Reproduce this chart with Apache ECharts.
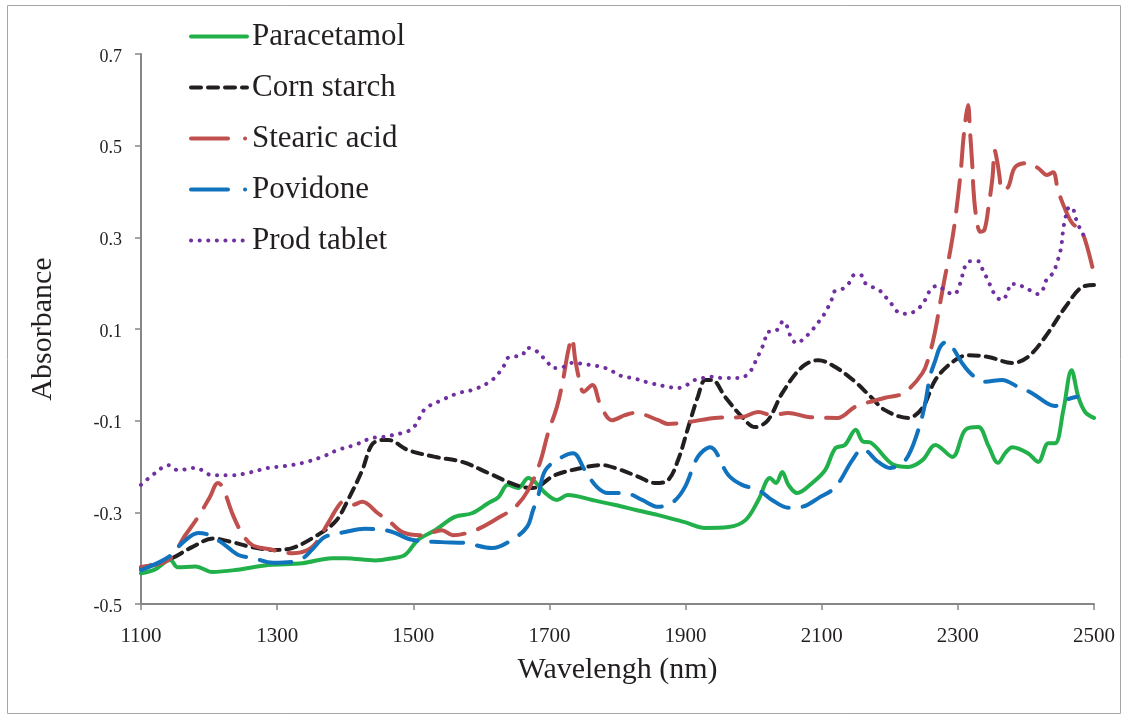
<!DOCTYPE html>
<html>
<head>
<meta charset="utf-8">
<title>NIR absorbance spectra</title>
<script src="https://cdn.jsdelivr.net/npm/echarts@6/dist/echarts.min.js"></script>
<style>
  html, body { margin: 0; padding: 0; background: #ffffff; }
  #chart { width: 1129px; height: 722px; }
</style>
</head>
<body>
<div id="chart"></div>
<script>
// Axis ranges and tick labels
const xTicks = [1100, 1300, 1500, 1700, 1900, 2100, 2300, 2500];
const yTicks = [-0.5, -0.3, -0.1, 0.1, 0.3, 0.5, 0.7];

const seriesNames = ['Paracetamol', 'Corn starch', 'Stearic acid', 'Povidone', 'Prod tablet'];

// Spectra: [wavelength (nm), absorbance]
const paracetamol = [
  [1100,-0.433],[1120,-0.425],[1143,-0.404],[1154,-0.42],[1180,-0.418],[1205,-0.43],[1238,-0.426],
  [1287,-0.415],[1337,-0.411],[1381,-0.40],[1400,-0.40],[1444,-0.405],[1470,-0.40],[1488,-0.393],
  [1507,-0.36],[1532,-0.339],[1561,-0.31],[1586,-0.302],[1610,-0.28],[1625,-0.267],[1639,-0.24],
  [1654,-0.247],[1669,-0.225],[1679,-0.234],[1694,-0.258],[1711,-0.273],[1727,-0.262],[1763,-0.273],
  [1797,-0.284],[1830,-0.296],[1860,-0.306],[1900,-0.322],[1929,-0.334],[1963,-0.332],[1988,-0.317],
  [2007,-0.273],[2024,-0.225],[2033,-0.236],[2042,-0.212],[2051,-0.24],[2064,-0.258],[2086,-0.236],
  [2105,-0.208],[2120,-0.16],[2134,-0.153],[2150,-0.12],[2160,-0.145],[2172,-0.148],[2204,-0.195],
  [2227,-0.201],[2248,-0.186],[2267,-0.153],[2292,-0.179],[2311,-0.12],[2330,-0.114],[2345,-0.155],
  [2359,-0.192],[2370,-0.17],[2380,-0.158],[2403,-0.171],[2418,-0.19],[2433,-0.149],[2443,-0.149],
  [2455,-0.077],[2467,0.01],[2477,-0.048],[2487,-0.081],[2500,-0.094]
];

const cornStarch = [
  [1100,-0.421],[1140,-0.404],[1175,-0.376],[1206,-0.357],[1234,-0.365],[1263,-0.376],[1297,-0.382],
  [1322,-0.378],[1351,-0.357],[1385,-0.321],[1404,-0.273],[1425,-0.208],[1439,-0.153],[1454,-0.142],
  [1463,-0.142],[1492,-0.164],[1532,-0.179],[1572,-0.19],[1610,-0.214],[1650,-0.24],[1675,-0.247],
  [1708,-0.219],[1748,-0.203],[1777,-0.197],[1800,-0.205],[1830,-0.222],[1855,-0.236],[1874,-0.23],
  [1889,-0.186],[1904,-0.114],[1918,-0.048],[1929,-0.011],[1939,-0.011],[1958,-0.048],[1983,-0.092],
  [2002,-0.114],[2021,-0.099],[2042,-0.04],[2071,0.017],[2095,0.032],[2120,0.017],[2149,-0.015],
  [2170,-0.045],[2193,-0.077],[2227,-0.094],[2248,-0.072],[2267,-0.011],[2292,0.028],[2315,0.043],
  [2345,0.039],[2380,0.026],[2403,0.039],[2428,0.082],[2458,0.148],[2483,0.192],[2500,0.196]
];

const stearicAcid = [
  [1100,-0.419],[1140,-0.404],[1165,-0.35],[1184,-0.31],[1201,-0.267],[1213,-0.236],[1220,-0.245],
  [1234,-0.302],[1248,-0.345],[1263,-0.371],[1287,-0.38],[1322,-0.389],[1351,-0.376],[1375,-0.323],
  [1389,-0.288],[1397,-0.277],[1410,-0.284],[1425,-0.277],[1448,-0.302],[1465,-0.32],[1484,-0.343],
  [1513,-0.35],[1542,-0.339],[1558,-0.35],[1591,-0.339],[1625,-0.312],[1650,-0.288],[1669,-0.251],
  [1686,-0.192],[1698,-0.127],[1711,-0.07],[1720,-0.011],[1727,0.048],[1733,0.08],[1738,0.032],
  [1744,-0.011],[1750,-0.037],[1763,-0.022],[1775,-0.066],[1792,-0.099],[1811,-0.088],[1826,-0.083],
  [1860,-0.099],[1874,-0.107],[1904,-0.103],[1943,-0.094],[1983,-0.092],[2007,-0.081],[2027,-0.088],
  [2051,-0.083],[2080,-0.092],[2124,-0.094],[2149,-0.07],[2193,-0.05],[2220,-0.04],[2248,0.004],
  [2259,0.048],[2267,0.098],[2274,0.157],[2281,0.213],[2289,0.272],[2296,0.338],[2304,0.44],
  [2308,0.512],[2312,0.565],[2315,0.589],[2318,0.528],[2321,0.462],[2323,0.403],[2327,0.344],
  [2333,0.312],[2339,0.316],[2345,0.366],[2351,0.432],[2354,0.49],[2358,0.464],[2361,0.435],
  [2365,0.403],[2374,0.41],[2384,0.453],[2403,0.462],[2418,0.451],[2431,0.436],[2440,0.442],
  [2447,0.403],[2458,0.36],[2468,0.331],[2480,0.316],[2487,0.294],[2498,0.233]
];

const povidone = [
  [1100,-0.426],[1140,-0.398],[1162,-0.365],[1184,-0.345],[1201,-0.35],[1223,-0.371],[1243,-0.393],
  [1265,-0.4],[1294,-0.41],[1322,-0.408],[1338,-0.4],[1351,-0.382],[1370,-0.354],[1400,-0.343],
  [1429,-0.336],[1459,-0.339],[1473,-0.345],[1498,-0.36],[1542,-0.365],[1576,-0.367],[1616,-0.378],
  [1645,-0.36],[1667,-0.332],[1676,-0.295],[1683,-0.267],[1694,-0.208],[1719,-0.179],[1735,-0.171],
  [1752,-0.208],[1770,-0.245],[1786,-0.258],[1811,-0.258],[1836,-0.273],[1860,-0.288],[1882,-0.277],
  [1899,-0.245],[1918,-0.179],[1936,-0.158],[1963,-0.219],[1983,-0.24],[2007,-0.251],[2027,-0.273],
  [2051,-0.29],[2071,-0.288],[2095,-0.269],[2120,-0.245],[2145,-0.186],[2160,-0.162],[2183,-0.19],
  [2200,-0.203],[2223,-0.186],[2242,-0.12],[2252,-0.062],[2259,-0.004],[2267,0.032],[2274,0.061],
  [2283,0.072],[2293,0.058],[2306,0.026],[2321,0.0],[2340,-0.015],[2365,-0.011],[2388,-0.026],
  [2409,-0.04],[2431,-0.062],[2443,-0.068],[2458,-0.055],[2475,-0.048]
];

const prodTablet = [
  [1100,-0.24],[1121,-0.214],[1140,-0.197],[1154,-0.208],[1180,-0.203],[1205,-0.219],[1234,-0.219],
  [1257,-0.214],[1287,-0.203],[1312,-0.199],[1338,-0.192],[1366,-0.179],[1389,-0.164],[1414,-0.153],
  [1439,-0.138],[1454,-0.136],[1492,-0.123],[1503,-0.11],[1517,-0.075],[1542,-0.055],[1566,-0.04],
  [1591,-0.031],[1616,-0.011],[1632,0.017],[1639,0.037],[1660,0.043],[1667,0.059],[1679,0.054],
  [1697,0.028],[1705,0.015],[1720,0.017],[1733,0.026],[1757,0.022],[1782,0.015],[1808,-0.004],
  [1822,-0.007],[1848,-0.018],[1874,-0.026],[1888,-0.029],[1902,-0.022],[1914,-0.011],[1926,-0.007],
  [1939,-0.004],[1954,-0.007],[1980,-0.007],[1992,0.002],[1999,0.017],[2005,0.037],[2011,0.054],
  [2016,0.074],[2021,0.094],[2029,0.094],[2037,0.102],[2043,0.117],[2051,0.1],[2055,0.08],
  [2064,0.069],[2074,0.08],[2084,0.094],[2093,0.111],[2101,0.126],[2108,0.144],[2114,0.161],
  [2118,0.181],[2130,0.187],[2140,0.2],[2148,0.218],[2157,0.218],[2164,0.2],[2174,0.192],
  [2186,0.183],[2195,0.168],[2204,0.152],[2212,0.137],[2226,0.133],[2237,0.139],[2248,0.154],
  [2255,0.172],[2261,0.189],[2271,0.194],[2283,0.181],[2295,0.176],[2302,0.194],[2306,0.213],
  [2309,0.231],[2317,0.248],[2330,0.248],[2336,0.231],[2342,0.213],[2348,0.194],[2354,0.176],
  [2364,0.163],[2373,0.178],[2377,0.198],[2386,0.198],[2396,0.192],[2408,0.183],[2418,0.176],
  [2427,0.192],[2431,0.211],[2440,0.222],[2445,0.242],[2449,0.261],[2452,0.281],[2455,0.32],
  [2458,0.342],[2461,0.362],[2468,0.366],[2472,0.347],[2477,0.327],[2483,0.309],[2490,0.292]
];

const serif = "'Liberation Serif', 'Times New Roman', serif";
const axisGray = '#868686';
const textColor = '#231f20';

const colors = ['#22b04b', '#231f20', '#c0504d', '#1172be', '#7030a0'];
const dashes = ['solid', [10, 7], [32, 14], [32, 14], [0.1, 8.5]];
// Legend swatches: long-dash-dot for the two dash-dot series
const legendDashes = ['solid', [10, 7], [37, 17, 0.1, 30], [37, 17, 0.1, 30], [0.1, 8.5]];

function line(i, data) {
  return {
    name: seriesNames[i],
    type: 'line',
    data: data,
    smooth: 0.35,
    symbol: 'none',
    showSymbol: false,
    clip: false,
    lineStyle: { color: colors[i], width: 4, type: dashes[i], cap: 'round', join: 'round' },
    itemStyle: { color: colors[i] },
    emphasis: { disabled: true }
  };
}

const chart = echarts.init(document.getElementById('chart'), null, { renderer: 'canvas' });

chart.setOption({
  animation: false,
  backgroundColor: '#ffffff',
  textStyle: { fontFamily: serif },
  graphic: [{
    type: 'rect',
    shape: { x: 7.5, y: 5.5, width: 1113, height: 708 },
    style: { fill: 'none', stroke: '#a6a6a6', lineWidth: 1 },
    silent: true,
    z: -1
  }],
  grid: { left: 141, right: 35, top: 54, bottom: 118, containLabel: false },
  legend: {
    orient: 'vertical',
    left: 184,
    top: 16,
    itemWidth: 56,
    itemHeight: 30,
    itemGap: 20,
    selectedMode: false,
    itemStyle: { opacity: 0 },
    data: seriesNames.map((n, i) => ({
      name: n,
      itemStyle: { opacity: 0 },
      lineStyle: { color: colors[i], width: 4, type: legendDashes[i], cap: 'round' }
    })),
    textStyle: { fontFamily: serif, fontSize: 31, lineHeight: 30, color: textColor }
  },
  xAxis: {
    type: 'value',
    min: xTicks[0],
    max: xTicks[xTicks.length - 1],
    interval: xTicks[1] - xTicks[0],
    name: 'Wavelengh (nm)',
    nameLocation: 'middle',
    nameGap: 51,
    nameTextStyle: { fontFamily: serif, fontSize: 30, color: textColor },
    axisLine: { show: true, onZero: false, lineStyle: { color: axisGray, width: 2 } },
    axisTick: { show: true, inside: false, length: 6, lineStyle: { color: axisGray, width: 1.5 } },
    axisLabel: { margin: 22, fontFamily: serif, fontSize: 21, color: textColor,
      formatter: v => String(Math.round(v)) },
    splitLine: { show: false }
  },
  yAxis: {
    type: 'value',
    min: yTicks[0],
    max: yTicks[yTicks.length - 1],
    interval: yTicks[1] - yTicks[0],
    name: 'Absorbance',
    nameLocation: 'middle',
    nameGap: 83,
    nameRotate: 90,
    nameTextStyle: { fontFamily: serif, fontSize: 30, color: textColor },
    axisLine: { show: true, onZero: false, lineStyle: { color: axisGray, width: 2 } },
    axisTick: { show: true, inside: false, length: 6, lineStyle: { color: axisGray, width: 1.5 } },
    axisLabel: { margin: 19, fontFamily: serif, fontSize: 18, color: textColor,
      verticalAlign: 'top', lineHeight: 6,
      formatter: v => {
        const s = (Math.round(v * 10) / 10).toFixed(1);
        return s === '-0.0' ? '0.0' : s;
      } },
    splitLine: { show: false }
  },
  series: [
    line(0, paracetamol),
    line(1, cornStarch),
    line(2, stearicAcid),
    line(3, povidone),
    line(4, prodTablet)
  ]
});
</script>
</body>
</html>
